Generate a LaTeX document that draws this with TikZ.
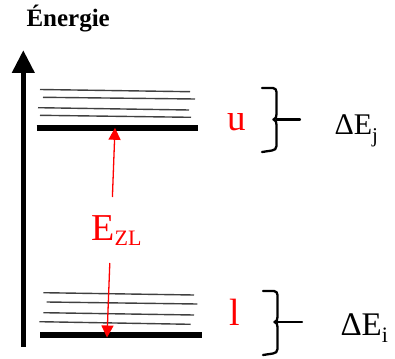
\documentclass[tikz,border=0pt]{standalone}
\usepackage{fontspec}
\setmainfont{Liberation Serif}
\usetikzlibrary{arrows.meta}
\tikzset{
  level/.style={line width=6.8pt},
  sublevel/.style={line width=1.4pt, black!75},
  axisarrow/.style={line width=5.6pt, -{Triangle[width=21.5pt,length=23pt]}},
  redarrow/.style={red, line width=1.3pt, -{Triangle[width=12pt,length=12pt]}},
  brace/.style={line width=2.3pt, line cap=round, line join=round},
  lbl/.style={anchor=base west, inner sep=0pt, outer sep=0pt},
}
\newcommand{\fs}[1]{\fontsize{#1}{#1}\selectfont}
\begin{document}
\begin{tikzpicture}[x=1pt,y=-1pt]
\useasboundingbox (0,0) rectangle (395,358);
% title
\node[lbl, font=\bfseries\fs{25}] (title) at (26.5,27) {Énergie};
% energy axis
\coordinate (axbot) at (23.3,346.7);
\coordinate (axtop) at (23.3,50);
\draw[axisarrow] (axbot) -- (axtop);
% upper level u
\draw[sublevel] (40,89.5) -- (190,91.7);
\draw[sublevel] (43,97.3) -- (195,99);
\draw[sublevel] (38,107.7) -- (189,110);
\draw[sublevel] (40,115.3) -- (191,117.3);
\coordinate (uL) at (36.7,128);
\coordinate (uR) at (198.3,128);
\draw[level] (uL) -- (uR);
% lower level l
\draw[sublevel] (43.3,292.7) -- (194,295);
\draw[sublevel] (46.7,302) -- (197.3,304);
\draw[sublevel] (43.3,312.7) -- (194,315);
\draw[sublevel] (39.3,321.7) -- (190.7,324.3);
\coordinate (lL) at (40,335);
\coordinate (lR) at (201.7,335);
\draw[level] (lL) -- (lR);
% zero-line transition
\coordinate (utip) at (115,127.8);
\coordinate (ltip) at (107,337.5);
\coordinate (ga) at (112.4,197);
\coordinate (gb) at (109.8,263);
\draw[redarrow] (ga) -- (utip);
\draw[redarrow] (gb) -- (ltip);
\node[lbl, red, font=\fs{38}] (ezl) at (91.5,240) {E\raisebox{-5pt}{\fs{22}ZL}};
% level labels
\node[lbl, red, font=\fs{37}] (u) at (227,130) {u};
\node[lbl, red, font=\fs{38}] (l) at (229,325) {l};
% braces
\draw[brace] (262,88) -- (273,88) to[out=0,in=90] (276.5,92) -- (276.5,114)
  to[out=-90,in=0] (273.5,119.5) to[out=0,in=90] (276.5,125) -- (276.5,146)
  to[out=-90,in=0] (272,150.5) -- (262,152);
\draw[brace] (276.5,119.5) -- (300,119.5);
\draw[brace] (263,291) -- (274,291) to[out=0,in=90] (277.5,295) -- (277.5,317)
  to[out=-90,in=0] (274.5,322) to[out=0,in=90] (277.5,327) -- (277.5,349)
  to[out=-90,in=0] (273,353.5) -- (263,355);
\draw[brace] (277.5,322) -- (302,322);
\node[lbl, font=\fs{30}] (dEj) at (334.5,135) {ΔE\raisebox{-7pt}{\fs{21}j}};
\node[lbl, font=\fs{33}] (dEi) at (340.5,335) {ΔE\raisebox{-7.5pt}{\fs{22}i}};
\end{tikzpicture}
\end{document}
